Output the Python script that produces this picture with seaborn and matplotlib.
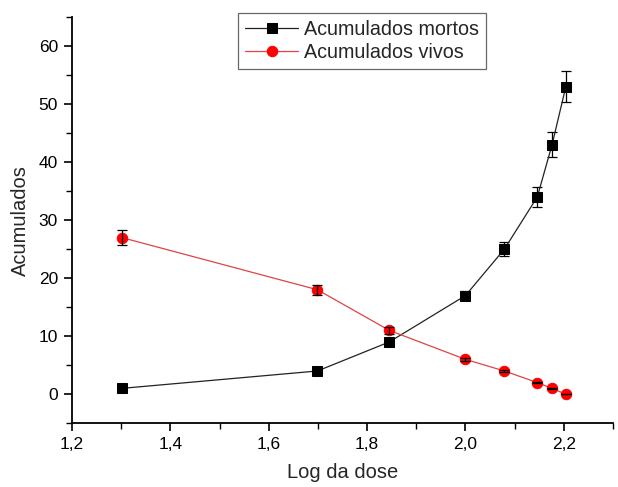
import numpy as np
import pandas as pd
import matplotlib
matplotlib.use("Agg")
import matplotlib.pyplot as plt
from matplotlib.ticker import MultipleLocator, FuncFormatter
import seaborn as sns

log_dose = [1.301, 1.699, 1.845, 2.000, 2.079, 2.146, 2.176, 2.204]
mortos = [1, 4, 9, 17, 25, 34, 43, 53]
mortos_err = [0.05, 0.2, 0.45, 0.85, 1.25, 1.7, 2.15, 2.65]
vivos = [27, 18, 11, 6, 4, 2, 1, 0]
vivos_err = [1.35, 0.9, 0.55, 0.3, 0.2, 0.1, 0.05, 0.0]
label_mortos = "Acumulados mortos"
label_vivos = "Acumulados vivos"

sns.set_theme(style="ticks")
plt.rcParams["font.family"] = ["Liberation Sans", "DejaVu Sans"]

df = pd.DataFrame({"x": log_dose, "mortos": mortos, "vivos": vivos})

fig = plt.figure(figsize=(6.18, 4.87), dpi=100)
ax = fig.add_axes([0.1165, 0.131, 0.8755, 0.834])

ax.errorbar(log_dose, mortos, yerr=mortos_err, fmt="none", ecolor="black",
            elinewidth=0.9, capsize=3.5, capthick=0.9, zorder=2)

sns.lineplot(data=df, x="x", y="mortos", ax=ax, color="#222222", linewidth=0.9,
             marker="s", markersize=6.5, markerfacecolor="black",
             markeredgecolor="black", label=label_mortos, zorder=3)
sns.lineplot(data=df, x="x", y="vivos", ax=ax, color="#dd4444", linewidth=0.9,
             marker="o", markersize=7.5, markerfacecolor="#ff0000",
             markeredgecolor="#ff0000", label=label_vivos, zorder=3)
# error bars drawn over red markers (black crosses visible in reference)
ax.errorbar(log_dose, vivos, yerr=vivos_err, fmt="none", ecolor="black",
            elinewidth=0.9, capsize=3.5, capthick=0.9, zorder=4)

ax.set_xlim(1.2, 2.3)
ax.set_ylim(-5, 65)
ax.xaxis.set_major_locator(MultipleLocator(0.2))
ax.xaxis.set_minor_locator(MultipleLocator(0.1))
ax.yaxis.set_major_locator(MultipleLocator(10))
ax.yaxis.set_minor_locator(MultipleLocator(5))
ax.xaxis.set_major_formatter(FuncFormatter(lambda v, p: f"{v:.1f}".replace(".", ",")))

for s in ["top", "right"]:
    ax.spines[s].set_visible(False)
for s in ["left", "bottom"]:
    ax.spines[s].set_linewidth(1.3)
    ax.spines[s].set_color("black")

ax.tick_params(axis="both", which="major", length=6, width=1.2, direction="out",
               labelsize=12.5, colors="black", pad=4)
ax.tick_params(axis="both", which="minor", length=4, width=1.0, direction="out",
               colors="black")

ax.set_xlabel("Log da dose", fontsize=14.5, labelpad=8)
ax.set_ylabel("Acumulados", fontsize=14.5, labelpad=6)

leg = ax.legend(loc="upper left", bbox_to_anchor=(238 / 618, 1 - 13 / 487),
                bbox_transform=fig.transFigure, fontsize=14.2, frameon=True,
                fancybox=False, edgecolor="#444444", borderpad=0.35,
                handlelength=2.7, handletextpad=0.3, labelspacing=0.2,
                borderaxespad=0)
leg.get_frame().set_linewidth(0.9)

fig.savefig("out.png", dpi=100)
